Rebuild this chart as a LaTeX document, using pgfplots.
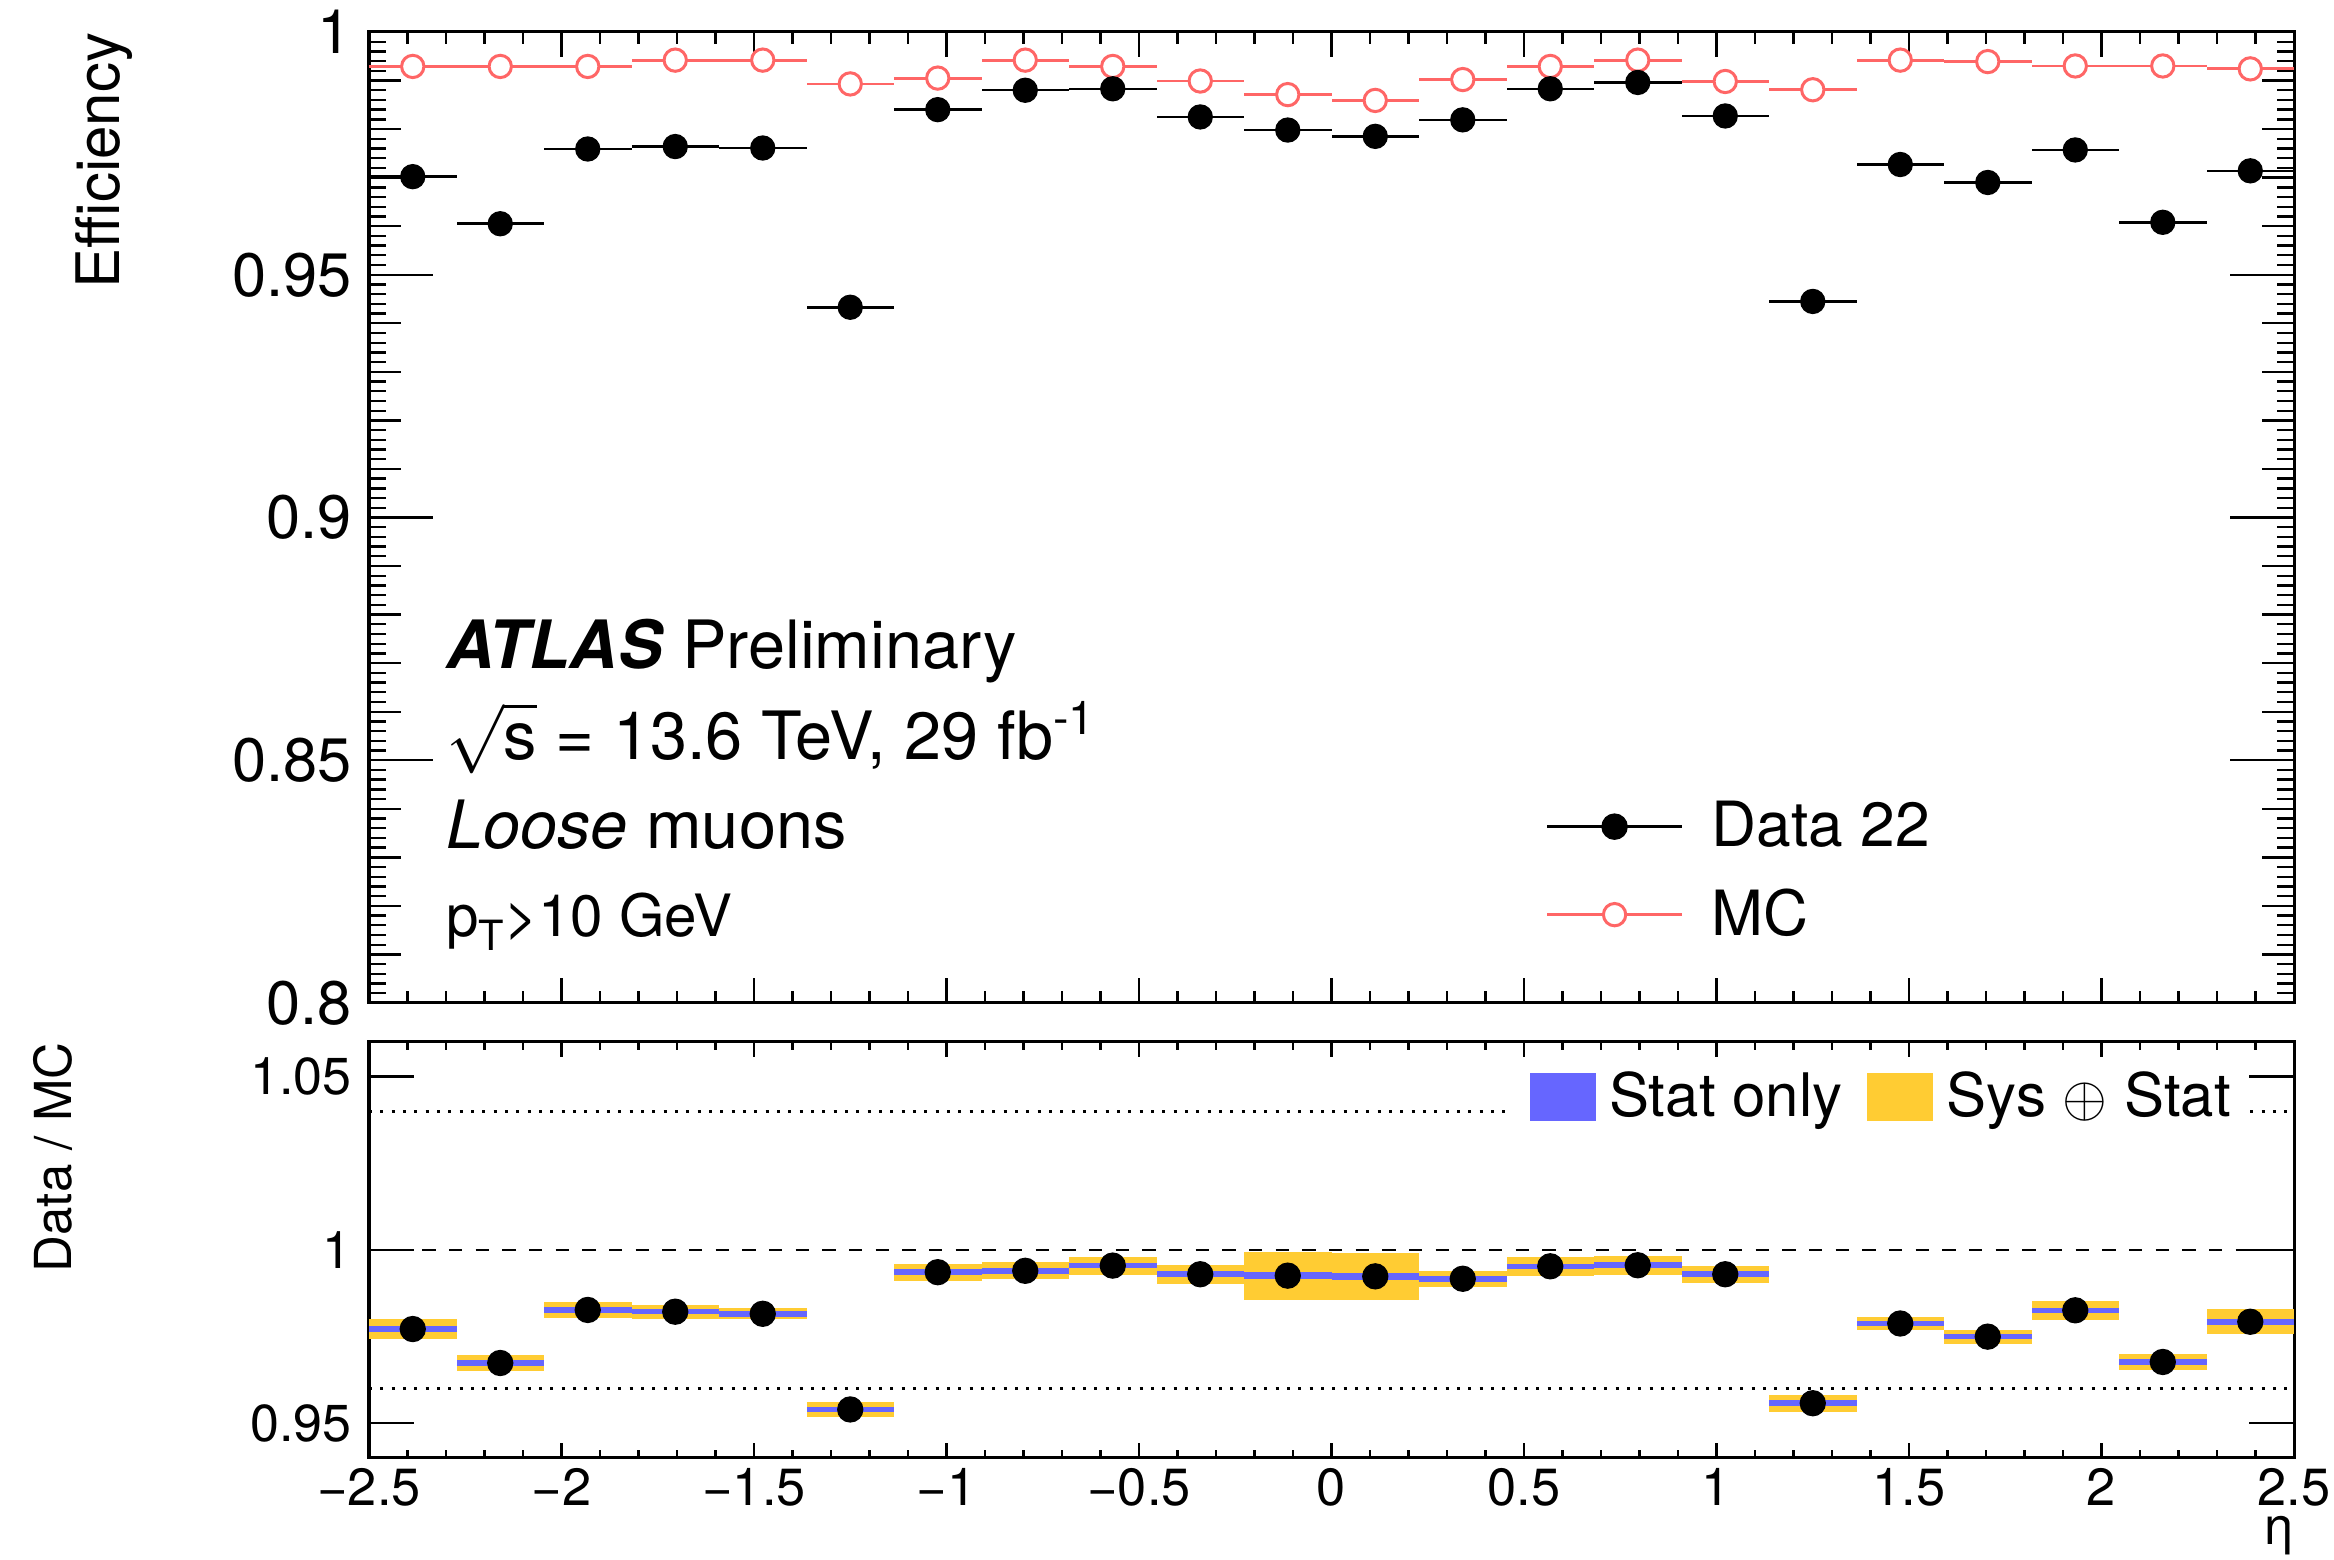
\documentclass[border=0pt]{standalone}
\usepackage{fontspec}
\setmainfont{TeX Gyre Heros}
\usepackage{pgfplots}
\usepackage{pgfplotstable}
\pgfplotsset{compat=1.18}

\definecolor{mcred}{RGB}{255,102,102}
\definecolor{statblue}{RGB}{102,102,255}
\definecolor{sysyellow}{RGB}{255,204,51}

% eta bin centre, data eff, MC eff, data/MC, stat and sys+stat on ratio
\pgfplotstableread{
x          eff     mc      r       stat    sys
-2.386364  0.9702  0.9929  0.9772  0.0008  0.0030
-2.159091  0.9605  0.9929  0.9674  0.0008  0.0022
-1.931818  0.9759  0.9929  0.9827  0.0008  0.0024
-1.704545  0.9764  0.9942  0.9822  0.0008  0.0020
-1.477273  0.9761  0.9942  0.9816  0.0008  0.0016
-1.250000  0.9433  0.9893  0.9540  0.0008  0.0022
-1.022727  0.9840  0.9905  0.9936  0.0008  0.0025
-0.795455  0.9880  0.9942  0.9940  0.0008  0.0025
-0.568182  0.9883  0.9929  0.9955  0.0008  0.0026
-0.340909  0.9825  0.9899  0.9930  0.0008  0.0028
-0.113636  0.9798  0.9871  0.9926  0.0011  0.0069
 0.113636  0.9785  0.9859  0.9924  0.0011  0.0067
 0.340909  0.9819  0.9902  0.9917  0.0008  0.0023
 0.568182  0.9883  0.9929  0.9953  0.0008  0.0027
 0.795455  0.9896  0.9942  0.9956  0.0008  0.0027
 1.022727  0.9827  0.9898  0.9930  0.0008  0.0025
 1.250000  0.9445  0.9881  0.9558  0.0008  0.0025
 1.477273  0.9727  0.9942  0.9788  0.0008  0.0019
 1.704545  0.9690  0.9939  0.9750  0.0008  0.0020
 1.931818  0.9757  0.9930  0.9826  0.0008  0.0027
 2.159091  0.9608  0.9930  0.9677  0.0008  0.0023
 2.386364  0.9714  0.9924  0.9793  0.0008  0.0036
}\effdata

\pgfplotsset{
  rootaxis/.style={
    scale only axis, width=577.5pt,
    xmin=-2.5, xmax=2.5,
    tick align=inside, tick pos=both,
    axis line style={line width=0.9pt},
    every tick/.style={black, line width=0.7pt},
  },
  toppanel/.style={rootaxis, at={(0pt,136.5pt)}, anchor=south west,
    height=291.3pt, ymin=0.8, ymax=1},
  botpanel/.style={rootaxis, at={(0pt,0pt)}, anchor=south west,
    height=124.8pt, ymin=0.94, ymax=1.06},
  nolabels/.style={xticklabel style={inner sep=0pt, font=\tiny},
    yticklabel style={inner sep=0pt, font=\tiny}},
}

\begin{document}
\begin{tikzpicture}
\path[use as bounding box] (-110.7pt,-30.3pt) rectangle (589.5pt,437.4pt);

% ---- upper panel: small y ticks
\begin{axis}[toppanel, nolabels, xtick=\empty, ytick distance=0.002, yticklabels={},
  major tick length=5pt]
\end{axis}

% ---- upper panel: labelled y ticks
\begin{axis}[toppanel, xtick=\empty,
  ytick={0.8,0.85,0.9,0.95,1}, yticklabels={0.8,0.85,0.9,0.95,1},
  minor y tick num=4, major tick length=19.3pt, minor tick length=9.7pt,
  yticklabel style={inner sep=0pt, anchor=east, xshift=-5pt,
    font=\fontsize{18.4}{22}\selectfont},
  ylabel={Efficiency},
  ylabel style={at={(axis description cs:-0.12935,1)}, anchor=base east,
    inner sep=0pt, font=\fontsize{18}{22}\selectfont}]
\end{axis}

% ---- upper panel: x ticks and data
\begin{axis}[toppanel, nolabels, ytick=\empty,
  xtick={-2.5,-2,-1.5,-1,-0.5,0,0.5,1,1.5,2,2.5}, xticklabels={},
  minor x tick num=4, major tick length=7.5pt, minor tick length=3.7pt,
  legend cell align=left,
  legend style={draw=none, fill=none, at={(axis description cs:0.6109,0.136)},
    anchor=west, inner sep=0pt, row sep=11.1pt,
    font=\fontsize{18.7}{22}\selectfont,
    nodes={inner sep=0pt},
    /tikz/every odd column/.style={column sep=8.4pt}},
  legend image code/.code={\draw[mark repeat=2, mark phase=2, #1]
    plot coordinates {(0pt,0pt) (20.25pt,0pt) (40.5pt,0pt)};}]

\addplot[only marks, mcred, mark=*, mark size=3.35pt,
  mark options={fill=white, line width=0.9pt}, forget plot,
  error bars/.cd, x dir=both, x fixed=0.113636, error mark=none,
  error bar style={line width=0.85pt, mcred}]
  table[x=x, y=mc] {\effdata};

\addplot[only marks, black, mark=*, mark size=3.6pt, forget plot,
  error bars/.cd, x dir=both, x fixed=0.113636, error mark=none,
  error bar style={line width=0.75pt, black}]
  table[x=x, y=eff] {\effdata};

\addlegendimage{black, line width=0.75pt, mark=*, mark size=3.6pt}
\addlegendentry{Data 22}
\addlegendimage{mcred, line width=0.85pt, mark=*, mark size=3.35pt,
  mark options={fill=white, line width=0.9pt}}
\addlegendentry{MC}

\node[anchor=base west, inner sep=0pt, font=\fontsize{20}{24}\selectfont]
  at (axis description cs:0.0398,0.3447) {\textbf{\textit{ATLAS}} Preliminary};
\node[anchor=base west, inner sep=0pt, font=\fontsize{20}{24}\selectfont]
  at (axis description cs:0.0398,0.2509) {$\sqrt{\mbox{s}}$ = 13.6 TeV, 29 fb\textsuperscript{-1}};
\node[anchor=base west, inner sep=0pt, font=\fontsize{20}{24}\selectfont]
  at (axis description cs:0.0398,0.1593) {\textit{Loose} muons};
\node[anchor=base west, inner sep=0pt, font=\fontsize{17.5}{21}\selectfont]
  at (axis description cs:0.0398,0.0683) {p\raisebox{-0.45ex}{\fontsize{12.5}{14}\selectfont T}>10 GeV};
\end{axis}

% ---- lower panel: y ticks
\begin{axis}[botpanel, xtick=\empty,
  ytick={0.95,1,1.05}, yticklabels={0.95,1,1.05},
  major tick length=13.5pt,
  yticklabel style={inner sep=0pt, anchor=east, xshift=-5pt,
    font=\fontsize{15.6}{19}\selectfont},
  ylabel={Data / MC},
  ylabel style={at={(axis description cs:-0.15429,1)}, anchor=base east,
    inner sep=0pt, font=\fontsize{15.3}{18}\selectfont}]
\end{axis}

% ---- lower panel: x ticks and ratio
\begin{axis}[botpanel, ytick=\empty,
  xtick={-2.5,-2,-1.5,-1,-0.5,0,0.5,1,1.5,2,2.5},
  xticklabels={−2.5,−2,−1.5,−1,−0.5,0,0.5,1,1.5,2,2.5},
  minor x tick num=4, major tick length=4.5pt, minor tick length=2.3pt,
  xticklabel style={inner sep=0pt, anchor=north, yshift=-3pt,
    font=\fontsize{15.7}{19}\selectfont},
  xlabel={η},
  xlabel style={at={(axis description cs:1,-0.2091)}, anchor=base east,
    inner sep=0pt, font=\fontsize{15.7}{19}\selectfont},
  legend columns=2, legend cell align=left,
  legend style={draw=none, fill=white, at={(axis description cs:0.5932,0.868)},
    anchor=west, inner xsep=5.4pt, inner ysep=2pt,
    font=\fontsize{18}{22}\selectfont,
    nodes={inner sep=0pt},
    /tikz/every odd column/.style={column sep=4pt},
    /tikz/every even column/.style={column sep=7.5pt}}]

\addplot[black, dash pattern=on 0.9pt off 2.5pt, line width=0.9pt, forget plot] coordinates {(-2.5,1.04) (2.5,1.04)};
\addplot[black, dash pattern=on 0.9pt off 2.5pt, line width=0.9pt, forget plot] coordinates {(-2.5,0.96) (2.5,0.96)};
\addplot[black, dash pattern=on 4pt off 4pt, line width=0.8pt, forget plot] coordinates {(-2.5,1) (2.5,1)};

\addplot[only marks, mark=none, sysyellow, forget plot,
  error bars/.cd, y dir=both, y explicit, error mark=none,
  error bar style={line width=26.25pt, sysyellow}]
  table[x=x, y=r, y error=sys] {\effdata};
\addplot[only marks, mark=none, statblue, forget plot,
  error bars/.cd, y dir=both, y explicit, error mark=none,
  error bar style={line width=26.25pt, statblue}]
  table[x=x, y=r, y error=stat] {\effdata};
\addplot[only marks, black, mark=*, mark size=3.75pt, forget plot]
  table[x=x, y=r] {\effdata};

\addlegendimage{legend image code/.code={\fill[statblue] (0pt,-7.05pt) rectangle (19.5pt,7.05pt);}}
\addlegendentry{Stat only}
\addlegendimage{legend image code/.code={\fill[sysyellow] (0pt,-7.05pt) rectangle (19.5pt,7.05pt);}}
\addlegendentry{Sys $\oplus$ Stat}
\end{axis}
\end{tikzpicture}
\end{document}
